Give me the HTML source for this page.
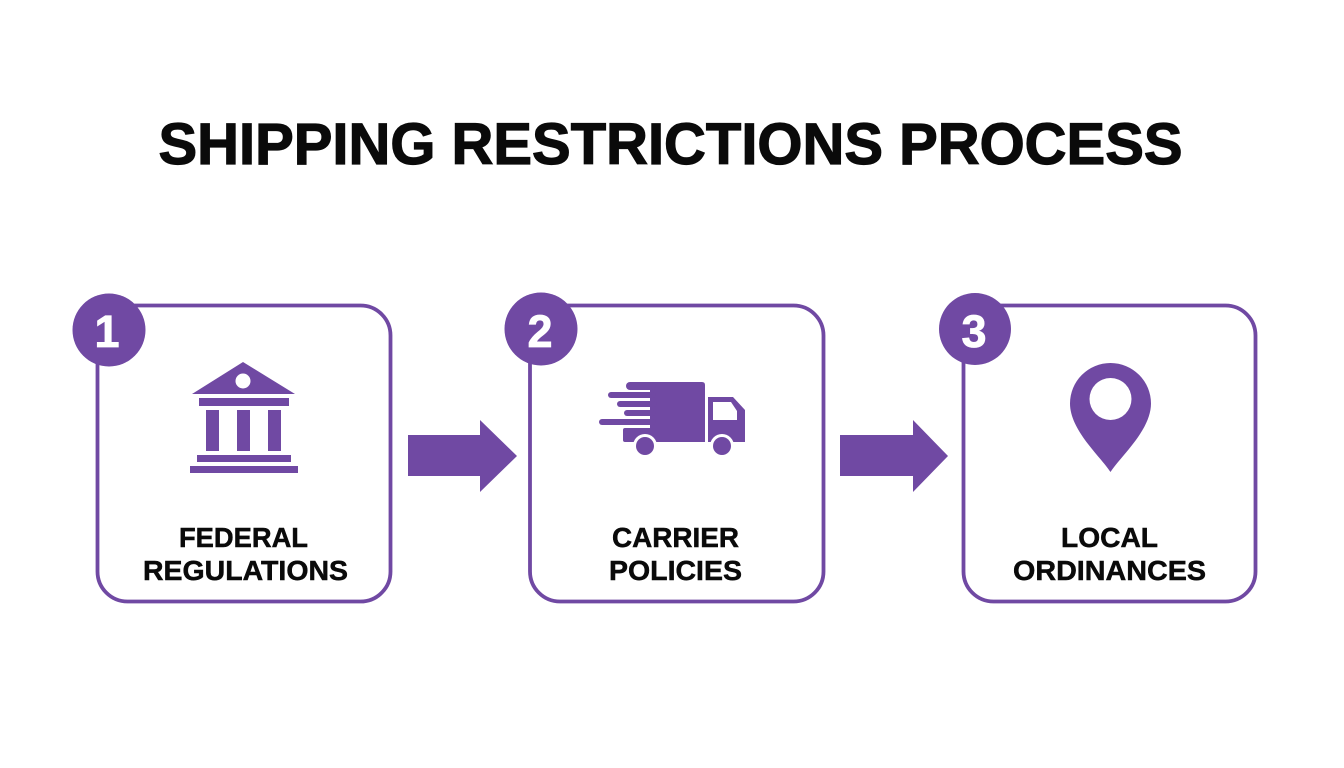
<!DOCTYPE html>
<html><head><meta charset="utf-8"><style>
html,body{margin:0;padding:0;background:#fff;}
svg{display:block;}
text{font-family:"Liberation Sans",Arial,sans-serif;font-weight:bold;}
</style></head><body>
<svg width="1344" height="768" viewBox="0 0 1344 768" xmlns="http://www.w3.org/2000/svg">
<rect width="1344" height="768" fill="#ffffff"/>
<text x="670.5" y="164" font-size="58" text-anchor="middle" textLength="1024" lengthAdjust="spacingAndGlyphs" fill="#0a0a0a" stroke="#0a0a0a" stroke-width="1.2">SHIPPING RESTRICTIONS PROCESS</text>

<g fill="none" stroke="#7049a3" stroke-width="3.8">
<rect x="97.5" y="305.5" width="293" height="296" rx="30"/>
<rect x="530" y="305.5" width="293.5" height="296" rx="30"/>
<rect x="963.5" y="305.5" width="292" height="296" rx="30"/>
</g>

<g fill="#7049a3">
<circle cx="109" cy="330" r="36.5"/>
<circle cx="541" cy="329" r="36.5"/>
<circle cx="975" cy="329" r="36"/>
<path d="M408 435 H480 V420 L517 456 L480 492 V476 H408 Z"/>
<path d="M840 435 H913 V420 L948 456 L913 492 V476 H840 Z"/>

<!-- bank -->
<path d="M243 362 L295 394 L192 394 Z"/>
<rect x="199" y="398" width="90" height="8"/>
<rect x="206" y="410" width="13" height="41"/>
<rect x="237" y="410" width="13" height="41"/>
<rect x="268" y="410" width="13" height="41"/>
<rect x="197" y="455" width="94" height="7"/>
<rect x="190" y="466" width="108" height="7"/>

<!-- truck -->
<path d="M650 382 H702 Q705 382 705 385 V442 H650 Z"/>
<rect x="626" y="382" width="30" height="8" rx="4"/>
<rect x="608" y="392" width="48" height="6" rx="3"/>
<rect x="617" y="401" width="40" height="6" rx="3"/>
<rect x="624" y="410" width="32" height="6" rx="3"/>
<rect x="599" y="419" width="57" height="6" rx="3"/>
<rect x="623" y="428" width="33" height="14" rx="2"/>
<path d="M708 397 H733 L745 410 V442 H708 Z"/>
<circle cx="645" cy="446" r="12" fill="#fff"/>
<circle cx="645" cy="446" r="9"/>
<circle cx="722" cy="446" r="12" fill="#fff"/>
<circle cx="722" cy="446" r="9"/>

<!-- pin -->
<path d="M1110.5 472 C1100 456 1070 430 1070 403.5 A40.5 40.5 0 1 1 1151 403.5 C1151 430 1121 456 1110.5 472 Z"/>
</g>
<circle cx="243" cy="381" r="7.5" fill="#fff"/>
<path d="M713 402 H731 L737 411 V420 H713 Z" fill="#fff"/>
<circle cx="1110.5" cy="399" r="21" fill="#fff"/>

<g fill="#fff" stroke="#fff" stroke-width="0.8" font-size="45" text-anchor="middle">
<text x="107" y="347">1</text>
<text x="540" y="347">2</text>
<text x="974" y="347">3</text>
</g>

<g fill="#0a0a0a" stroke="#0a0a0a" stroke-width="0.5" font-size="28" text-anchor="middle">
<text x="243.5" y="547" textLength="129" lengthAdjust="spacingAndGlyphs">FEDERAL</text>
<text x="245.5" y="580" textLength="205" lengthAdjust="spacingAndGlyphs">REGULATIONS</text>
<text x="675.5" y="547" textLength="127" lengthAdjust="spacingAndGlyphs">CARRIER</text>
<text x="675.5" y="580" textLength="133" lengthAdjust="spacingAndGlyphs">POLICIES</text>
<text x="1109.5" y="547" textLength="97" lengthAdjust="spacingAndGlyphs">LOCAL</text>
<text x="1109.5" y="580" textLength="193" lengthAdjust="spacingAndGlyphs">ORDINANCES</text>
</g>
</svg>
</body></html>
